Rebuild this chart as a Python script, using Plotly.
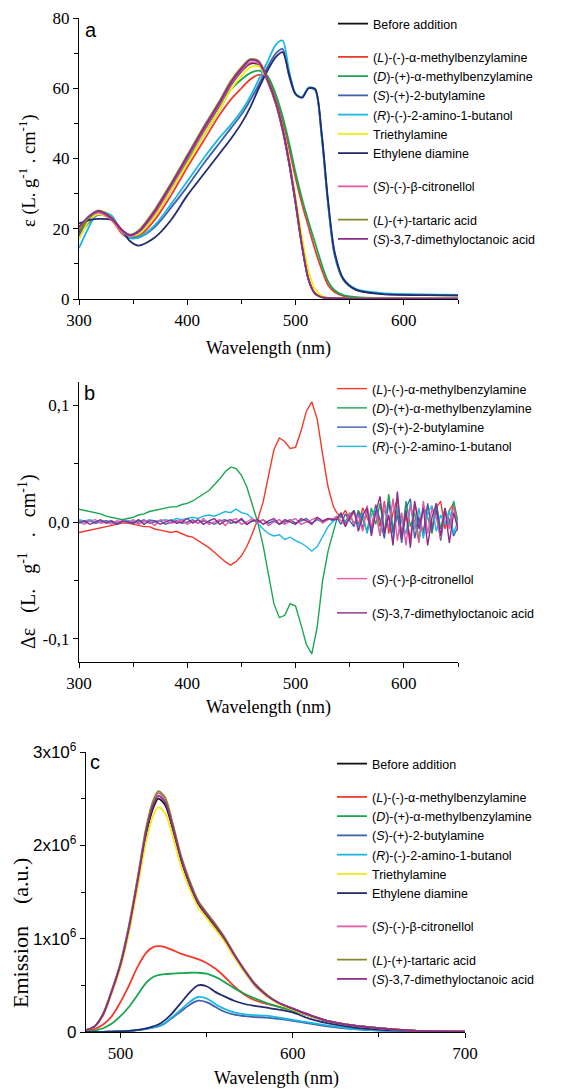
import plotly.graph_objects as go

SERIF = "Liberation Serif"
SANS = "Liberation Sans"

# legend names and colours (same order in every panel)
names = [
    "Before addition",
    "(<i>L</i>)-(-)-α-methylbenzylamine",
    "(<i>D</i>)-(+)-α-methylbenzylamine",
    "(<i>S</i>)-(+)-2-butylamine",
    "(<i>R</i>)-(-)-2-amino-1-butanol",
    "Triethylamine",
    "Ethylene diamine",
    "(<i>S</i>)-(-)-β-citronellol",
    "(<i>L</i>)-(+)-tartaric acid",
    "(<i>S</i>)-3,7-dimethyloctanoic acid",
]
colors = ["#111111", "#f03a2a", "#1aa650", "#4160ad", "#1cb7e2",
          "#f4ea14", "#232b6e", "#e25aa4", "#868a2c", "#8c2c8f"]
groups = ["g1", "g2", "g2", "g2", "g2", "g2", "g2", "g3", "g4", "g4"]

# ---- panel a : absorption (L g-1 cm-1)
wl_a = [300, 310, 318, 330, 340, 347, 355, 370, 385, 400, 415, 430, 440, 450, 458, 466,
        474, 482, 488, 494, 500, 506, 512, 518, 524, 530, 536, 544, 556, 580, 620, 650]
abs_before = [19.0, 23.0, 24.2, 22.8, 19.0, 18.0, 19.0, 24.5, 32.0, 40.0, 47.8, 55.3, 60.8, 64.8, 67.0, 66.8,
              62.0, 55.3, 48.0, 38.6, 27.2, 15.0, 5.5, 1.5, 0.5, 0.3, 0.2, 0.15, 0.1, 0.1, 0.1, 0.1]
abs_l_mba = [18.5, 23.0, 24.5, 22.5, 18.5, 17.3, 17.8, 22.5, 29.5, 37.5, 45.0, 52.5, 56.7, 60.0, 62.5, 63.8,
             63.0, 57.5, 51.0, 43.0, 34.5, 27.0, 20.5, 14.0, 8.5, 4.0, 2.0, 0.9, 0.4, 0.2, 0.1, 0.1]
abs_d_mba = [18.0, 23.0, 24.8, 22.8, 19.0, 17.8, 18.3, 23.5, 31.0, 39.0, 46.5, 54.0, 59.5, 62.5, 64.3, 65.0,
             63.5, 58.0, 52.0, 44.5, 36.0, 28.5, 22.0, 16.0, 10.0, 5.0, 2.5, 1.1, 0.5, 0.2, 0.1, 0.1]
abs_s_but = [18.0, 22.0, 24.0, 23.0, 19.0, 17.8, 17.5, 20.5, 26.0, 32.0, 38.5, 44.5, 48.5, 52.5, 56.5, 61.0,
             66.0, 70.0, 71.2, 63.5, 58.3, 57.5, 60.0, 59.5, 46.5, 27.0, 12.5, 5.5, 2.6, 1.5, 1.2, 1.1]
abs_r_amb = [14.5, 21.0, 24.8, 23.8, 18.8, 17.3, 17.5, 21.0, 27.0, 33.5, 40.0, 46.0, 49.5, 53.5, 57.5, 62.5,
             67.5, 72.5, 73.6, 65.0, 58.5, 57.5, 60.2, 59.8, 46.8, 27.3, 13.0, 5.8, 2.8, 1.7, 1.3, 1.2]
abs_tea = [17.0, 22.5, 24.2, 22.5, 19.0, 18.0, 18.5, 23.5, 31.0, 38.5, 46.5, 54.0, 59.5, 63.5, 66.0, 66.3,
           62.0, 55.5, 48.5, 39.5, 29.0, 17.5, 8.0, 2.8, 0.9, 0.4, 0.25, 0.15, 0.1, 0.1, 0.1, 0.1]
abs_eda = [21.5, 22.5, 22.8, 22.5, 19.5, 16.5, 15.2, 17.5, 22.5, 29.5, 35.5, 41.5, 45.5, 50.0, 54.5, 60.0,
           65.0, 69.0, 70.3, 64.0, 58.3, 57.3, 60.0, 59.8, 47.5, 28.0, 13.5, 5.8, 2.6, 1.4, 1.1, 1.0]
abs_citr = [20.0, 23.5, 24.6, 22.6, 19.1, 18.0, 19.0, 24.5, 32.0, 40.0, 48.0, 55.5, 61.0, 65.0, 67.3, 67.0,
            62.2, 55.5, 48.3, 38.8, 27.3, 15.0, 5.5, 1.5, 0.5, 0.3, 0.2, 0.15, 0.1, 0.1, 0.1, 0.1]
abs_tart = [19.5, 23.5, 25.2, 23.2, 19.6, 18.3, 19.5, 25.5, 33.0, 41.0, 49.0, 56.5, 62.0, 66.0, 68.3, 67.8,
            62.8, 56.0, 48.8, 39.3, 27.8, 15.2, 5.6, 1.5, 0.5, 0.3, 0.2, 0.15, 0.1, 0.1, 0.1, 0.1]
abs_dmo = [20.5, 23.8, 25.0, 23.0, 19.5, 18.2, 19.2, 25.0, 32.5, 40.5, 48.5, 56.0, 61.5, 65.5, 68.0, 67.5,
           62.5, 55.7, 48.5, 39.0, 27.5, 15.0, 5.5, 1.5, 0.5, 0.3, 0.2, 0.15, 0.1, 0.1, 0.1, 0.1]

# ---- panel b : circular dichroism
wl_b = list(range(300, 536, 5)) + list(range(538, 651, 4))
cd_l_mba = [-0.009, -0.008, -0.007, -0.006, -0.005, -0.004, -0.003, -0.002, -0.001, -0.001,
            -0.002, -0.003, -0.004, -0.004, -0.006, -0.007, -0.008, -0.009, -0.008, -0.010,
            -0.012, -0.013, -0.016, -0.019, -0.022, -0.026, -0.030, -0.034, -0.037, -0.034,
            -0.029, -0.021, -0.010, 0.002, 0.017, 0.040, 0.062, 0.072, 0.069, 0.063,
            0.064, 0.078, 0.095, 0.103, 0.088, 0.058, 0.030, 0.013] + \
           [0.008, 0.004, 0.010, 0.002, 0.009, -0.002, 0.012, 0.004, -0.006, 0.015,
            -0.004, 0.018, -0.010, 0.008, 0.020, -0.012, 0.006, -0.015, 0.016, 0.002,
            -0.008, 0.014, -0.004, 0.012, 0.018, -0.006, 0.010, 0.016, -0.002]
cd_d_mba = [0.011, 0.010, 0.009, 0.008, 0.007, 0.005, 0.004, 0.003, 0.002, 0.003,
            0.004, 0.006, 0.007, 0.009, 0.010, 0.011, 0.012, 0.013, 0.013, 0.015,
            0.016, 0.018, 0.021, 0.024, 0.027, 0.032, 0.037, 0.043, 0.047, 0.046,
            0.040, 0.030, 0.016, 0.000, -0.020, -0.045, -0.070, -0.082, -0.080, -0.070,
            -0.072, -0.088, -0.105, -0.113, -0.090, -0.050, -0.025, -0.008] + \
           [0.002, 0.006, 0.000, 0.008, -0.003, 0.010, 0.002, -0.008, 0.012, -0.002,
            0.016, -0.010, 0.024, -0.006, 0.010, -0.014, 0.018, -0.004, 0.008, -0.016,
            0.014, 0.004, -0.010, 0.016, -0.006, 0.012, -0.004, 0.018, 0.000]
cd_s_but = [0.001, 0.000, 0.001, -0.001, 0.000, 0.001, 0.000, -0.001, 0.000, 0.001,
            -0.001, 0.000, 0.002, -0.001, 0.000, 0.001, -0.002, 0.000, 0.001, -0.001,
            0.000, 0.002, -0.001, 0.001, 0.000, -0.002, 0.001, 0.002, -0.001, 0.000,
            0.002, -0.002, 0.001, 0.000, 0.002, -0.001, 0.001, -0.002, 0.000, 0.002,
            -0.001, 0.001, 0.003, -0.001, 0.002, 0.000, 0.003, 0.001] + \
           [0.004, -0.002, 0.007, 0.001, -0.004, 0.009, -0.006, 0.012, -0.008, 0.014,
            0.002, -0.014, 0.018, -0.010, 0.006, -0.018, 0.012, 0.020, -0.014, 0.004,
            -0.012, 0.016, -0.008, 0.010, -0.016, 0.008, 0.002, -0.012, -0.004]
cd_r_amb = [0.002, 0.001, 0.002, 0.000, 0.001, 0.000, 0.001, -0.001, 0.000, 0.001,
            0.000, 0.001, 0.000, 0.002, 0.001, 0.001, 0.002, 0.001, 0.003, 0.002,
            0.003, 0.004, 0.003, 0.005, 0.006, 0.005, 0.007, 0.009, 0.008, 0.011,
            0.008, 0.007, 0.003, -0.001, -0.006, -0.010, -0.012, -0.011, -0.015, -0.013,
            -0.016, -0.018, -0.021, -0.025, -0.021, -0.012, -0.004, 0.001] + \
           [0.003, 0.007, -0.002, 0.006, 0.010, -0.004, 0.008, -0.010, 0.006, 0.012,
            -0.012, 0.010, 0.004, -0.016, 0.014, 0.000, -0.010, 0.016, -0.006, 0.012,
            -0.014, 0.008, 0.014, -0.008, 0.006, -0.002, 0.010, -0.010, 0.002]
cd_citr = [0.000, -0.002, 0.001, 0.002, -0.001, 0.000, -0.002, 0.001, 0.000, -0.001,
           0.002, -0.002, 0.001, 0.000, -0.003, 0.002, 0.001, -0.001, 0.000, 0.002,
           -0.002, 0.001, -0.001, 0.003, -0.002, 0.000, 0.002, -0.003, 0.001, 0.003,
           -0.002, 0.000, 0.003, -0.001, 0.002, -0.003, 0.000, 0.002, -0.002, 0.001,
           0.003, -0.002, 0.000, 0.002, 0.004, -0.001, 0.002, 0.003] + \
          [0.005, 0.001, -0.003, 0.008, -0.002, 0.006, -0.008, 0.014, -0.004, 0.010,
           -0.012, 0.016, -0.006, 0.020, -0.016, 0.008, -0.020, 0.014, 0.000, -0.018,
           0.018, -0.010, 0.012, 0.004, -0.014, 0.010, -0.006, 0.014, -0.008]
cd_dmo = [-0.001, 0.001, -0.002, 0.000, 0.002, -0.001, 0.001, -0.002, 0.001, 0.000,
          -0.001, 0.002, -0.002, 0.001, 0.001, -0.002, 0.000, 0.002, -0.001, 0.000,
          0.003, -0.001, 0.002, -0.002, 0.001, 0.003, -0.002, 0.001, 0.002, -0.001,
          0.003, -0.002, 0.001, 0.002, -0.002, 0.001, 0.003, -0.002, 0.002, 0.000,
          -0.002, 0.003, 0.001, -0.002, 0.004, 0.001, 0.003, 0.002] + \
         [0.002, 0.008, -0.004, 0.004, 0.010, -0.008, 0.006, 0.012, -0.012, 0.008,
          0.022, -0.010, 0.006, -0.020, 0.026, -0.014, 0.010, -0.022, 0.018, -0.006,
          0.012, -0.020, 0.004, 0.016, -0.012, 0.012, -0.018, 0.008, -0.006]

# ---- panel c : emission (x10^6 a.u.)
wl_c = [480, 485, 490, 495, 500, 505, 510, 515, 519, 522, 526, 530, 535, 540, 545,
        550, 555, 560, 566, 572, 578, 585, 592, 600, 610, 620, 635, 650, 670, 700]
em_before = [0.02, 0.06, 0.19, 0.43, 0.71, 1.10, 1.60, 2.12, 2.40, 2.50, 2.43, 2.20, 1.85, 1.58, 1.38,
             1.25, 1.13, 1.00, 0.82, 0.65, 0.50, 0.39, 0.31, 0.25, 0.18, 0.12, 0.07, 0.04, 0.015, 0.005]
em_l_mba = [0.01, 0.03, 0.08, 0.17, 0.32, 0.50, 0.70, 0.85, 0.91, 0.92, 0.91, 0.88, 0.84, 0.81, 0.78,
            0.74, 0.68, 0.60, 0.49, 0.40, 0.34, 0.30, 0.27, 0.23, 0.17, 0.12, 0.07, 0.04, 0.015, 0.005]
em_d_mba = [0.005, 0.015, 0.04, 0.09, 0.17, 0.27, 0.40, 0.53, 0.59, 0.61, 0.62, 0.625, 0.63, 0.635, 0.635,
            0.625, 0.59, 0.54, 0.47, 0.41, 0.36, 0.31, 0.27, 0.23, 0.17, 0.12, 0.07, 0.04, 0.015, 0.005]
em_s_but = [0.0, 0.0, 0.002, 0.004, 0.007, 0.011, 0.02, 0.033, 0.047, 0.06, 0.095, 0.15, 0.22, 0.29, 0.335,
            0.32, 0.27, 0.22, 0.185, 0.17, 0.16, 0.155, 0.14, 0.12, 0.09, 0.06, 0.03, 0.015, 0.006, 0.002]
em_r_amb = [0.0, 0.0, 0.002, 0.004, 0.007, 0.011, 0.02, 0.035, 0.05, 0.065, 0.10, 0.16, 0.24, 0.32, 0.375,
            0.36, 0.30, 0.25, 0.21, 0.19, 0.18, 0.175, 0.155, 0.13, 0.10, 0.07, 0.035, 0.018, 0.007, 0.002]
em_tea = [0.02, 0.06, 0.18, 0.42, 0.69, 1.07, 1.55, 2.05, 2.32, 2.41, 2.34, 2.12, 1.79, 1.54, 1.34,
          1.22, 1.10, 0.98, 0.80, 0.64, 0.50, 0.38, 0.30, 0.24, 0.17, 0.12, 0.07, 0.04, 0.015, 0.005]
em_eda = [0.0, 0.0, 0.002, 0.004, 0.007, 0.012, 0.022, 0.04, 0.06, 0.08, 0.13, 0.20, 0.31, 0.42, 0.50,
          0.49, 0.43, 0.385, 0.335, 0.30, 0.28, 0.26, 0.24, 0.21, 0.14, 0.095, 0.05, 0.025, 0.01, 0.003]
em_citr = [0.02, 0.06, 0.19, 0.44, 0.73, 1.14, 1.64, 2.18, 2.46, 2.56, 2.49, 2.24, 1.88, 1.61, 1.40,
           1.27, 1.15, 1.02, 0.83, 0.66, 0.51, 0.39, 0.31, 0.25, 0.18, 0.12, 0.07, 0.04, 0.015, 0.005]
em_tart = [0.02, 0.06, 0.20, 0.45, 0.74, 1.15, 1.66, 2.20, 2.48, 2.58, 2.51, 2.26, 1.90, 1.63, 1.41,
           1.28, 1.16, 1.03, 0.84, 0.67, 0.52, 0.40, 0.31, 0.25, 0.18, 0.12, 0.07, 0.04, 0.015, 0.005]
em_dmo = [0.02, 0.06, 0.19, 0.44, 0.72, 1.12, 1.62, 2.15, 2.43, 2.53, 2.46, 2.22, 1.87, 1.60, 1.39,
          1.26, 1.14, 1.01, 0.83, 0.66, 0.51, 0.39, 0.31, 0.25, 0.18, 0.12, 0.07, 0.04, 0.015, 0.005]

abs_all = [abs_before, abs_l_mba, abs_d_mba, abs_s_but, abs_r_amb,
           abs_tea, abs_eda, abs_citr, abs_tart, abs_dmo]
em_all = [em_before, em_l_mba, em_d_mba, em_s_but, em_r_amb,
          em_tea, em_eda, em_citr, em_tart, em_dmo]
# CD panel: index into names/colors
cd_all = [(1, cd_l_mba), (2, cd_d_mba), (3, cd_s_but), (4, cd_r_amb), (7, cd_citr), (9, cd_dmo)]

fig = go.Figure()

for i, y in enumerate(abs_all):
    fig.add_trace(go.Scatter(
        x=wl_a, y=y, name=names[i], mode="lines",
        line=dict(color=colors[i], width=1.8, shape="spline", smoothing=0.8),
        legend="legend", legendgroup="a" + groups[i],
        xaxis="x", yaxis="y",
    ))

for i, y in cd_all:
    fig.add_trace(go.Scatter(
        x=wl_b, y=y, name=names[i], mode="lines",
        line=dict(color=colors[i], width=1.4),
        legend="legend2" if i < 7 else "legend3", legendgroup="b" + names[i],
        xaxis="x2", yaxis="y2",
    ))

for i, y in enumerate(em_all):
    fig.add_trace(go.Scatter(
        x=wl_c, y=y, name=names[i], mode="lines",
        line=dict(color=colors[i], width=1.8, shape="spline", smoothing=0.8),
        legend="legend4", legendgroup="c" + groups[i],
        xaxis="x3", yaxis="y3",
    ))

# the page body keeps an 8px margin, so the figure is 8px smaller than the window
OFF = 8
W, H = 562 - OFF, 1090 - OFF


def px(v):
    return (v - OFF) / W


def py(v):
    return 1 - (v - OFF) / H


serif_ticks = dict(family=SERIF, size=17, color="black")
axis_common = dict(
    showline=True, linecolor="black", linewidth=1.3, mirror=False,
    ticks="outside", ticklen=5, tickwidth=1.2, tickcolor="black",
    showgrid=False, zeroline=False, tickfont=serif_ticks, automargin=False,
)
minor_common = dict(ticks="outside", ticklen=4, tickwidth=1.2, tickcolor="black", showgrid=False)

legend_common = dict(
    xanchor="left", yanchor="top", bgcolor="rgba(0,0,0,0)",
    font=dict(family=SANS, size=12.5, color="black"), traceorder="grouped",
    itemclick=False,
)

fig.update_layout(
    template="none",
    width=W, height=H, margin=dict(l=0, r=0, t=0, b=0, autoexpand=False),
    paper_bgcolor="white", plot_bgcolor="white",
    xaxis=dict(domain=[px(79), px(458)], anchor="y", range=[300, 650], tick0=300, dtick=100,
               minor=dict(dtick=50, **minor_common), **axis_common),
    yaxis=dict(domain=[py(299), py(18)], anchor="x", range=[0, 80], dtick=20,
               minor=dict(dtick=10, **minor_common), **axis_common),
    xaxis2=dict(domain=[px(79), px(458)], anchor="y2", range=[300, 650], tick0=300, dtick=100,
                minor=dict(dtick=50, **minor_common), **axis_common),
    yaxis2=dict(domain=[py(662), py(382)], anchor="x2", range=[-0.12, 0.12],
                tickmode="array", tickvals=[-0.1, 0, 0.1], ticktext=["-0,1", "0,0", "0,1"],
                minor=dict(tickmode="array", tickvals=[-0.05, 0.05], **minor_common), **axis_common),
    xaxis3=dict(domain=[px(86), px(465)], anchor="y3", range=[480, 700],
                tickmode="array", tickvals=[500, 600, 700],
                minor=dict(tickmode="array", tickvals=[550, 650], **minor_common), **axis_common),
    yaxis3=dict(domain=[py(1032), py(752)], anchor="x3", range=[0, 3],
                tickmode="array", tickvals=[0, 1, 2, 3],
                ticktext=["0", "1x10<sup>6</sup>", "2x10<sup>6</sup>", "3x10<sup>6</sup>"],
                minor=dict(tickmode="array", tickvals=[0.5, 1.5, 2.5], **minor_common),
                **{**axis_common, "tickfont": dict(family=SANS, size=17, color="black")}),
    legend=dict(x=px(333), y=py(9), tracegroupgap=14, **legend_common),
    legend2=dict(x=px(332), y=py(374), tracegroupgap=0, **legend_common),
    legend3=dict(x=px(332), y=py(564), tracegroupgap=15, **legend_common),
    legend4=dict(x=px(332), y=py(749), tracegroupgap=14, **legend_common),
    showlegend=True,
)


def serif(size):
    return dict(family=SERIF, size=size, color="black")


sp = "\u00a0" * 3
letter_font = dict(family=SANS, size=20, color="black")
notes = [
    ("Wavelength (nm)", 268, 348, 0, serif(18)),
    ("Wavelength (nm)", 268, 707, 0, serif(18)),
    ("Wavelength (nm)", 276, 1078, 0, serif(18)),
    ("ε (L. g<sup>-1</sup> . cm<sup>-1</sup>)", 27, 171, -90, serif(18.5)),
    (f"Δε{sp}(L.{sp}g<sup>-1</sup>{sp}.{sp}cm<sup>-1</sup>)", 27, 562, -90, serif(20)),
    ("Emission" + "\u00a0" * 4 + "(a.u.)", 20, 933, -90, serif(22)),
    ("a", 91, 30, 0, letter_font),
    ("b", 89, 393, 0, letter_font),
    ("c", 95, 762, 0, letter_font),
]
for text, x, y, ang, font in notes:
    fig.add_annotation(text=text, x=px(x), y=py(y), xref="paper", yref="paper",
                       showarrow=False, textangle=ang, font=font,
                       xanchor="center", yanchor="middle")

fig.write_html("out.html")
